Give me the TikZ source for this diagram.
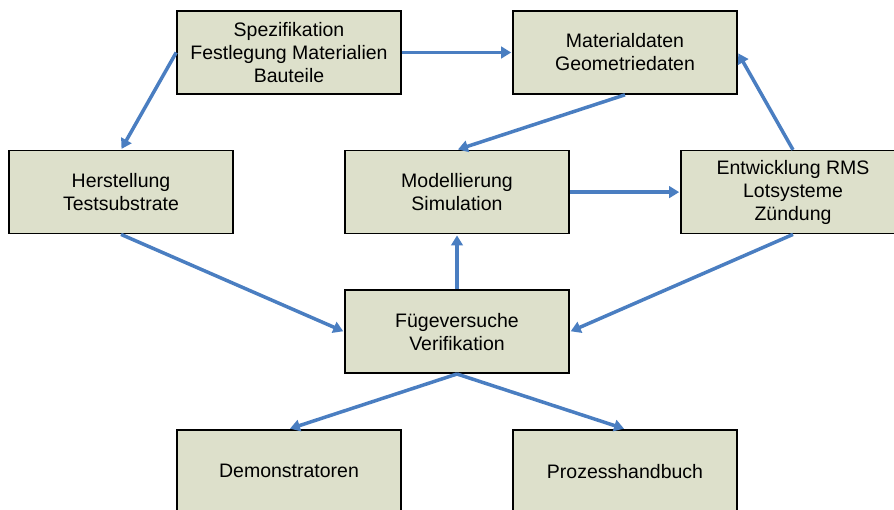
\documentclass[tikz,border=0pt]{standalone}
\usepackage{fontspec}
\setmainfont{Liberation Sans}
\usetikzlibrary{arrows.meta,positioning}

\definecolor{boxfill}{RGB}{221,224,203}
\definecolor{arrowblue}{RGB}{74,126,193}

\begin{document}
\begin{tikzpicture}[x=1pt,y=1pt,->,>={Triangle[length=10pt,width=11.5pt]},shorten >=1pt,
                    node distance=55pt and 110.4pt,
                    box/.style={draw=black,line width=1.6pt,fill=boxfill,
                                minimum width=224pt,minimum height=83pt,
                                inner sep=0pt,align=center,
                                font=\fontsize{19.5}{23}\selectfont},
                    link/.style={color=arrowblue,line width=3.5pt}]

  \useasboundingbox (0,0) rectangle (894,-509);
  \clip (0,0) rectangle (894,-509);

  \node[box] (spec) at (289,-52.5) {Spezifikation\\Festlegung Materialien\\Bauteile};
  \node[box] (mat)  [right=of spec]  {Materialdaten\\Geometriedaten};
  \node[box] (herst) [below=of spec, xshift=-168pt] {Herstellung\\Testsubstrate};
  \node[box] (mod)  [right=of herst] {Modellierung\\Simulation};
  \node[box] (entw) [right=of mod]   {Entwicklung RMS\\Lotsysteme\\Zündung};
  \node[box] (fuege) [below=of mod]  {Fügeversuche\\Verifikation};
  \node[box] (demo) [below=of fuege, xshift=-168pt] {Demonstratoren};
  \node[box] (proz) [right=of demo]  {Prozesshandbuch};

  \path[link] (spec)  edge (mat)
              (spec.west)  edge (herst.north)
              (mat.south)  edge (mod.north)
              (mod)   edge (entw)
              (entw.north) edge (mat.east)
              (herst.south) edge (fuege.west)
              (entw.south)  edge (fuege.east)
              (fuege) edge (mod)
              (fuege.south) edge (demo.north)
              (fuege.south) edge (proz.north);
\end{tikzpicture}
\end{document}
